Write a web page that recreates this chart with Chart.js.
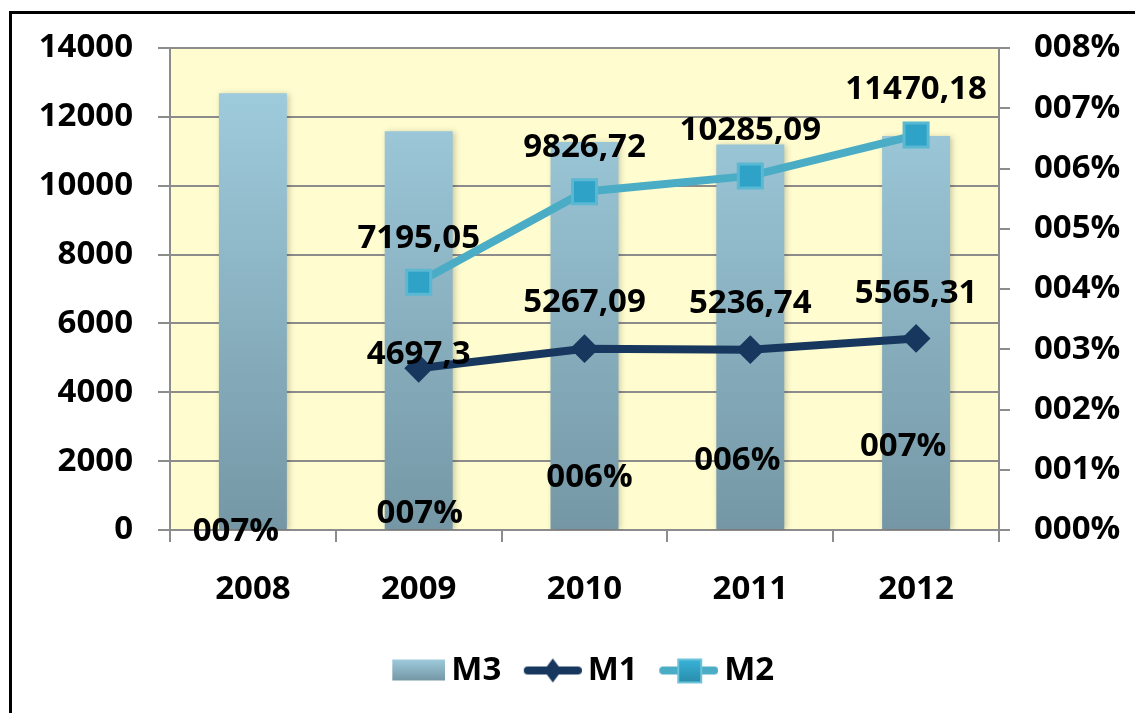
<!DOCTYPE html>
<html>
<head>
<meta charset="utf-8">
<script src="https://cdn.jsdelivr.net/npm/chart.js@4.4.0/dist/chart.umd.min.js"></script>
<style>
  html, body { margin: 0; padding: 0; background: #fff; overflow: hidden; }
  #frame { position: absolute; left: 9px; top: 11px; width: 1300px; height: 900px; border: 3px solid #000; box-sizing: border-box; }
  #wrap { position: absolute; left: 0; top: 0; width: 1135px; height: 713px; }
</style>
</head>
<body>
<div id="frame"></div>
<div id="wrap"><canvas id="myChart" width="1135" height="713"></canvas></div>
<script>
// chart values
const years = ["2008", "2009", "2010", "2011", "2012"];
const m3Values = [0.0725, 0.0662, 0.0644, 0.064, 0.0654]; // right axis (share)
const m1Values = [null, 4697.3, 5267.09, 5236.74, 5565.31];
const m2Values = [null, 7195.05, 9826.72, 10285.09, 11470.18];
const leftTicks = [0, 2000, 4000, 6000, 8000, 10000, 12000, 14000];
const rightTicks = [0, 0.01, 0.02, 0.03, 0.04, 0.05, 0.06, 0.07, 0.08];

const FONT = { family: "'Open Sans', 'Liberation Sans', sans-serif", size: 33, weight: "bold" };
const fontStr = "bold 33px 'Open Sans', 'Liberation Sans', sans-serif";
const GRID = "#8c8c8c";
const NAVY = "#17375e";
const TEAL = "#4bacc6";

function pct(v) {
  return "00" + Math.round(v * 100) + "%";
}
function comma(v) {
  return String(v).replace(".", ",");
}

function barGradient(ctx, top, bottom) {
  const g = ctx.createLinearGradient(0, top, 0, bottom);
  g.addColorStop(0, "#9ecbdc");
  g.addColorStop(1, "#7597a5");
  return g;
}

// legend symbols, drawn on small canvases (symbol sits in the right part)
function makeSymbol(kind) {
  const c = document.createElement("canvas");
  c.width = 79;
  c.height = 30;
  const g = c.getContext("2d");
  if (kind === "bar") {
    g.fillStyle = barGradient(g, 4, 25);
    g.fillRect(26, 4, 53, 21);
  } else if (kind === "m1") {
    g.strokeStyle = NAVY;
    g.lineWidth = 8;
    g.lineCap = "round";
    g.beginPath();
    g.moveTo(25, 15);
    g.lineTo(75, 15);
    g.stroke();
    g.fillStyle = NAVY;
    g.beginPath();
    g.moveTo(50, 3);
    g.lineTo(59, 15);
    g.lineTo(50, 27);
    g.lineTo(41, 15);
    g.closePath();
    g.fill();
  } else {
    g.strokeStyle = TEAL;
    g.lineWidth = 8;
    g.lineCap = "round";
    g.beginPath();
    g.moveTo(24, 15);
    g.lineTo(75, 15);
    g.stroke();
    const sg = g.createLinearGradient(0, 3, 0, 27);
    sg.addColorStop(0, "#38b4da");
    sg.addColorStop(1, "#2a8dab");
    g.fillStyle = sg;
    g.fillRect(38, 3, 25, 25);
    g.strokeStyle = "#6cc3da";
    g.lineWidth = 2;
    g.strokeRect(39, 4, 23, 23);
  }
  return c;
}

// yellow plot background + soft shadow under the bars
const plotBackground = {
  id: "plotBackground",
  beforeDraw(chart) {
    const { ctx, chartArea } = chart;
    ctx.save();
    ctx.fillStyle = "#fffdcf";
    ctx.fillRect(chartArea.left, chartArea.top, chartArea.right - chartArea.left, chartArea.bottom - chartArea.top);
    ctx.restore();
  },
  beforeDatasetDraw(chart, args) {
    if (args.index === 0) {
      chart.ctx.save();
      chart.ctx.shadowColor = "rgba(0,0,0,0.22)";
      chart.ctx.shadowBlur = 6;
      chart.ctx.shadowOffsetX = 2;
      chart.ctx.shadowOffsetY = 1;
    }
  },
  afterDatasetDraw(chart, args) {
    if (args.index === 0) chart.ctx.restore();
  },
};

// value labels
const valueLabels = {
  id: "valueLabels",
  afterDatasetsDraw(chart, args, opts) {
    const { ctx } = chart;
    const yLeft = chart.scales.y;
    ctx.save();
    ctx.font = fontStr;
    ctx.fillStyle = "#000";
    ctx.textAlign = "center";
    ctx.textBaseline = "middle";

    // bar labels (placed low inside the bars, as in the original)
    chart.getDatasetMeta(0).data.forEach((bar, i) => {
      const y = yLeft.getPixelForValue(opts.barLabelAt[i]);
      ctx.fillText(pct(m3Values[i]), bar.x + opts.barLabelShift[i], y);
    });

    // line labels above the points
    [1, 2].forEach((di) => {
      const values = chart.data.datasets[di].data;
      const lifts = opts.lift[di];
      chart.getDatasetMeta(di).data.forEach((pt, i) => {
        if (values[i] === null) return;
        ctx.fillText(comma(values[i]), pt.x, pt.y - lifts[i]);
      });
    });
    ctx.restore();
  },
};

const ctx = document.getElementById("myChart").getContext("2d");
const myChart = new Chart(ctx, {
  type: "bar",
  data: {
    labels: years,
    datasets: [
      {
        label: "M3",
        data: m3Values,
        yAxisID: "y1",
        order: 3,
        backgroundColor: (c) => {
          const a = c.chart.chartArea;
          if (!a) return "#8fb8c8";
          return barGradient(c.chart.ctx, a.top + 45, a.bottom);
        },
        borderWidth: 0,
        categoryPercentage: 0.41,
        barPercentage: 1,
      },
      {
        type: "line",
        label: "M1",
        data: m1Values,
        yAxisID: "y",
        order: 2,
        borderColor: NAVY,
        borderWidth: 8,
        pointStyle: "rectRot",
        pointRadius: 13,
        pointBorderWidth: 2,
        pointBackgroundColor: NAVY,
        pointBorderColor: NAVY,
        tension: 0,
      },
      {
        type: "line",
        label: "M2",
        data: m2Values,
        yAxisID: "y",
        order: 1,
        borderColor: TEAL,
        borderWidth: 8,
        pointStyle: "rect",
        pointRadius: 17,
        pointBorderWidth: 3,
        pointBackgroundColor: "#2ea3c7",
        pointBorderColor: "#5ab8d2",
        tension: 0,
      },
    ],
  },
  options: {
    responsive: false,
    animation: false,
    layout: { padding: { top: 48, left: 16, right: 0, bottom: 16 } },
    scales: {
      x: {
        offset: true,
        grid: { offset: true, drawOnChartArea: false, drawTicks: true, tickLength: 12, color: GRID, lineWidth: 2 },
        border: { display: true, color: GRID, width: 2 },
        ticks: { color: "#000", font: FONT, padding: 28 },
        afterFit(scale) { scale.height = 112; },
      },
      y: {
        position: "left",
        min: 0,
        max: 14000,
        afterBuildTicks(scale) { scale.ticks = leftTicks.map((v) => ({ value: v })); },
        grid: { color: GRID, lineWidth: 2, tickLength: 12 },
        border: { display: true, color: GRID, width: 2 },
        ticks: { color: "#000", font: FONT, padding: 25, callback: (v) => String(v) },
        afterFit(scale) { scale.width = 154; },
      },
      y1: {
        position: "right",
        min: 0,
        max: 0.08,
        afterBuildTicks(scale) { scale.ticks = rightTicks.map((v) => ({ value: v })); },
        grid: { drawOnChartArea: false, color: GRID, lineWidth: 2, tickLength: 11 },
        border: { display: true, color: GRID, width: 2 },
        ticks: { color: "#000", font: FONT, padding: 24, callback: (v) => pct(v) },
        afterFit(scale) { scale.width = 136; },
      },
    },
    plugins: {
      tooltip: { enabled: false },
      legend: {
        position: "bottom",
        labels: {
          usePointStyle: true,
          pointStyleWidth: 58,
          padding: 12,
          color: "#000",
          font: FONT,
          generateLabels: () => [
            { text: "M3", pointStyle: makeSymbol("bar"), datasetIndex: 0, lineWidth: 0 },
            { text: "M1", pointStyle: makeSymbol("m1"), datasetIndex: 1, lineWidth: 0 },
            { text: "M2", pointStyle: makeSymbol("m2"), datasetIndex: 2, lineWidth: 0 },
          ],
        },
      },
      valueLabels: {
        barLabelAt: [-60, 470, 1520, 2010, 2420],
        barLabelShift: [-17, 1, 5, -13, -13],
        lift: { 1: [0, 14, 46, 46, 45], 2: [0, 44, 44, 45, 46] },
      },
    },
  },
  plugins: [plotBackground, valueLabels],
});
</script>
</body>
</html>
